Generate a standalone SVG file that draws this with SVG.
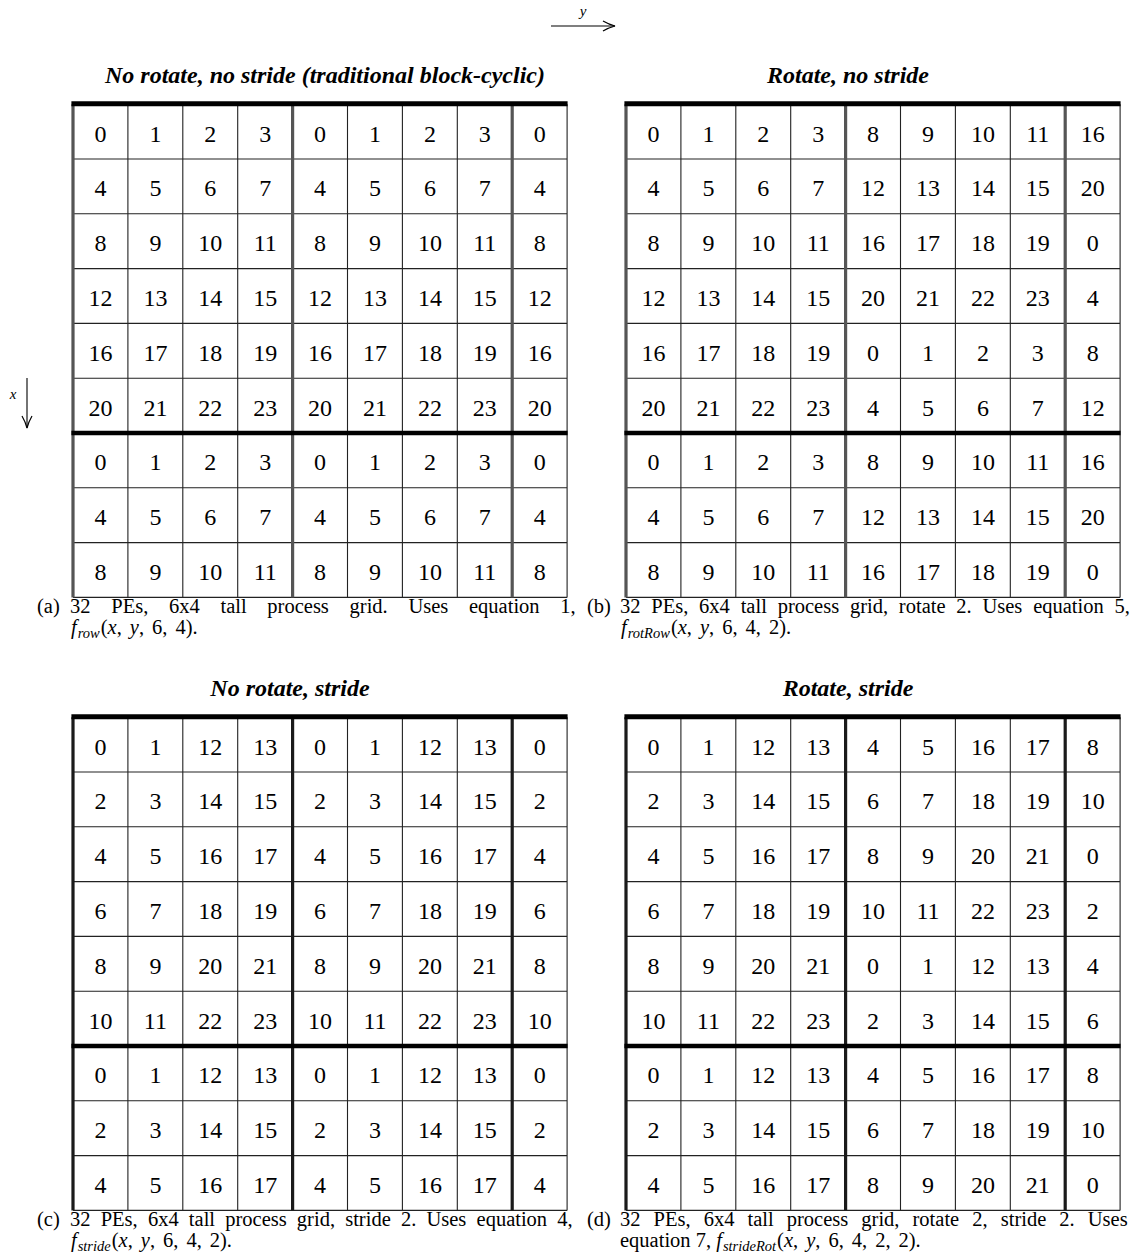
<svg xmlns="http://www.w3.org/2000/svg" xmlns:xlink="http://www.w3.org/1999/xlink" width="1133" height="1260" viewBox="0 0 1133 1260">
<style>
.n{font-family:"Liberation Serif","Times New Roman",serif;font-size:24px;text-anchor:middle;fill:#000}
.thin{fill:none;stroke:#222;stroke-width:1.1}
.tv{fill:none;stroke:currentColor;stroke-width:3.2}
.th{fill:none;stroke:#000}
.title{font-family:"Liberation Serif","Times New Roman",serif;font-weight:bold;font-style:italic;font-size:24px;text-anchor:middle;fill:#000}
.cap{font-family:"Liberation Serif","Times New Roman",serif;font-size:20.5px;fill:#000}
.i{font-style:italic}
.sub{font-style:italic;font-size:14.5px}
.ax{stroke:#000;stroke-width:1.1;fill:none}
.axl{font-family:"Liberation Serif","Times New Roman",serif;font-style:italic;font-size:15px;fill:#000}
</style>
<defs>
<marker id="chev" markerUnits="userSpaceOnUse" markerWidth="16" markerHeight="12" refX="14" refY="6" orient="auto">
<path d="M2 1 Q8 4.5 14 6 Q8 7.5 2 11" fill="none" stroke="#000" stroke-width="1.2"/>
</marker>
<g id="lines">
<path class="thin" d="M54.9 0V493.2M109.8 0V493.2M164.7 0V493.2M274.5 0V493.2M329.4 0V493.2M384.3 0V493.2M494.1 0V493.2M0 54.8H494.1M0 109.6H494.1M0 164.4H494.1M0 219.2H494.1M0 274H494.1M0 383.6H494.1M0 438.4H494.1M0 493.2H494.1"/>
<path class="tv" d="M0 0V493.2M219.6 0V493.2M439.2 0V493.2"/>
<path class="th" stroke-width="5" d="M-1.6 -0.5H494.6"/>
<path class="th" stroke-width="4.5" d="M-1.6 328.8H494.6"/>
</g>
</defs>

<g id="connectors">
<line class="ax" x1="551" y1="26" x2="615" y2="26" marker-end="url(#chev)"/>
<text class="axl" x="583" y="16" text-anchor="middle">y</text>
<line class="ax" x1="27" y1="378" x2="27" y2="428" marker-end="url(#chev)"/>
<text class="axl" x="13" y="399" text-anchor="middle">x</text>
</g>

<g id="grid-a">
<text class="title" x="325" y="83">No rotate, no stride (traditional block-cyclic)</text>
<g transform="translate(73,104.2)" style="color:#555">
<use xlink:href="#lines"/>
<g class="n">
<text y="37.5"><tspan x="27.5">0</tspan><tspan x="82.4">1</tspan><tspan x="137.3">2</tspan><tspan x="192.2">3</tspan><tspan x="247.1">0</tspan><tspan x="302">1</tspan><tspan x="356.9">2</tspan><tspan x="411.8">3</tspan><tspan x="466.7">0</tspan></text>
<text y="92.3"><tspan x="27.5">4</tspan><tspan x="82.4">5</tspan><tspan x="137.3">6</tspan><tspan x="192.2">7</tspan><tspan x="247.1">4</tspan><tspan x="302">5</tspan><tspan x="356.9">6</tspan><tspan x="411.8">7</tspan><tspan x="466.7">4</tspan></text>
<text y="147.1"><tspan x="27.5">8</tspan><tspan x="82.4">9</tspan><tspan x="137.3">10</tspan><tspan x="192.2">11</tspan><tspan x="247.1">8</tspan><tspan x="302">9</tspan><tspan x="356.9">10</tspan><tspan x="411.8">11</tspan><tspan x="466.7">8</tspan></text>
<text y="201.9"><tspan x="27.5">12</tspan><tspan x="82.4">13</tspan><tspan x="137.3">14</tspan><tspan x="192.2">15</tspan><tspan x="247.1">12</tspan><tspan x="302">13</tspan><tspan x="356.9">14</tspan><tspan x="411.8">15</tspan><tspan x="466.7">12</tspan></text>
<text y="256.7"><tspan x="27.5">16</tspan><tspan x="82.4">17</tspan><tspan x="137.3">18</tspan><tspan x="192.2">19</tspan><tspan x="247.1">16</tspan><tspan x="302">17</tspan><tspan x="356.9">18</tspan><tspan x="411.8">19</tspan><tspan x="466.7">16</tspan></text>
<text y="311.5"><tspan x="27.5">20</tspan><tspan x="82.4">21</tspan><tspan x="137.3">22</tspan><tspan x="192.2">23</tspan><tspan x="247.1">20</tspan><tspan x="302">21</tspan><tspan x="356.9">22</tspan><tspan x="411.8">23</tspan><tspan x="466.7">20</tspan></text>
<text y="366.3"><tspan x="27.5">0</tspan><tspan x="82.4">1</tspan><tspan x="137.3">2</tspan><tspan x="192.2">3</tspan><tspan x="247.1">0</tspan><tspan x="302">1</tspan><tspan x="356.9">2</tspan><tspan x="411.8">3</tspan><tspan x="466.7">0</tspan></text>
<text y="421.1"><tspan x="27.5">4</tspan><tspan x="82.4">5</tspan><tspan x="137.3">6</tspan><tspan x="192.2">7</tspan><tspan x="247.1">4</tspan><tspan x="302">5</tspan><tspan x="356.9">6</tspan><tspan x="411.8">7</tspan><tspan x="466.7">4</tspan></text>
<text y="475.9"><tspan x="27.5">8</tspan><tspan x="82.4">9</tspan><tspan x="137.3">10</tspan><tspan x="192.2">11</tspan><tspan x="247.1">8</tspan><tspan x="302">9</tspan><tspan x="356.9">10</tspan><tspan x="411.8">11</tspan><tspan x="466.7">8</tspan></text>
</g>
</g>
</g>

<g id="grid-b">
<text class="title" x="848" y="83">Rotate, no stride</text>
<g transform="translate(626,104.2)" style="color:#555">
<use xlink:href="#lines"/>
<g class="n">
<text y="37.5"><tspan x="27.5">0</tspan><tspan x="82.4">1</tspan><tspan x="137.3">2</tspan><tspan x="192.2">3</tspan><tspan x="247.1">8</tspan><tspan x="302">9</tspan><tspan x="356.9">10</tspan><tspan x="411.8">11</tspan><tspan x="466.7">16</tspan></text>
<text y="92.3"><tspan x="27.5">4</tspan><tspan x="82.4">5</tspan><tspan x="137.3">6</tspan><tspan x="192.2">7</tspan><tspan x="247.1">12</tspan><tspan x="302">13</tspan><tspan x="356.9">14</tspan><tspan x="411.8">15</tspan><tspan x="466.7">20</tspan></text>
<text y="147.1"><tspan x="27.5">8</tspan><tspan x="82.4">9</tspan><tspan x="137.3">10</tspan><tspan x="192.2">11</tspan><tspan x="247.1">16</tspan><tspan x="302">17</tspan><tspan x="356.9">18</tspan><tspan x="411.8">19</tspan><tspan x="466.7">0</tspan></text>
<text y="201.9"><tspan x="27.5">12</tspan><tspan x="82.4">13</tspan><tspan x="137.3">14</tspan><tspan x="192.2">15</tspan><tspan x="247.1">20</tspan><tspan x="302">21</tspan><tspan x="356.9">22</tspan><tspan x="411.8">23</tspan><tspan x="466.7">4</tspan></text>
<text y="256.7"><tspan x="27.5">16</tspan><tspan x="82.4">17</tspan><tspan x="137.3">18</tspan><tspan x="192.2">19</tspan><tspan x="247.1">0</tspan><tspan x="302">1</tspan><tspan x="356.9">2</tspan><tspan x="411.8">3</tspan><tspan x="466.7">8</tspan></text>
<text y="311.5"><tspan x="27.5">20</tspan><tspan x="82.4">21</tspan><tspan x="137.3">22</tspan><tspan x="192.2">23</tspan><tspan x="247.1">4</tspan><tspan x="302">5</tspan><tspan x="356.9">6</tspan><tspan x="411.8">7</tspan><tspan x="466.7">12</tspan></text>
<text y="366.3"><tspan x="27.5">0</tspan><tspan x="82.4">1</tspan><tspan x="137.3">2</tspan><tspan x="192.2">3</tspan><tspan x="247.1">8</tspan><tspan x="302">9</tspan><tspan x="356.9">10</tspan><tspan x="411.8">11</tspan><tspan x="466.7">16</tspan></text>
<text y="421.1"><tspan x="27.5">4</tspan><tspan x="82.4">5</tspan><tspan x="137.3">6</tspan><tspan x="192.2">7</tspan><tspan x="247.1">12</tspan><tspan x="302">13</tspan><tspan x="356.9">14</tspan><tspan x="411.8">15</tspan><tspan x="466.7">20</tspan></text>
<text y="475.9"><tspan x="27.5">8</tspan><tspan x="82.4">9</tspan><tspan x="137.3">10</tspan><tspan x="192.2">11</tspan><tspan x="247.1">16</tspan><tspan x="302">17</tspan><tspan x="356.9">18</tspan><tspan x="411.8">19</tspan><tspan x="466.7">0</tspan></text>
</g>
</g>
</g>

<g id="grid-c">
<text class="title" x="290" y="696">No rotate, stride</text>
<g transform="translate(73,717.2)" style="color:#1a1a1a">
<use xlink:href="#lines"/>
<g class="n">
<text y="37.5"><tspan x="27.5">0</tspan><tspan x="82.4">1</tspan><tspan x="137.3">12</tspan><tspan x="192.2">13</tspan><tspan x="247.1">0</tspan><tspan x="302">1</tspan><tspan x="356.9">12</tspan><tspan x="411.8">13</tspan><tspan x="466.7">0</tspan></text>
<text y="92.3"><tspan x="27.5">2</tspan><tspan x="82.4">3</tspan><tspan x="137.3">14</tspan><tspan x="192.2">15</tspan><tspan x="247.1">2</tspan><tspan x="302">3</tspan><tspan x="356.9">14</tspan><tspan x="411.8">15</tspan><tspan x="466.7">2</tspan></text>
<text y="147.1"><tspan x="27.5">4</tspan><tspan x="82.4">5</tspan><tspan x="137.3">16</tspan><tspan x="192.2">17</tspan><tspan x="247.1">4</tspan><tspan x="302">5</tspan><tspan x="356.9">16</tspan><tspan x="411.8">17</tspan><tspan x="466.7">4</tspan></text>
<text y="201.9"><tspan x="27.5">6</tspan><tspan x="82.4">7</tspan><tspan x="137.3">18</tspan><tspan x="192.2">19</tspan><tspan x="247.1">6</tspan><tspan x="302">7</tspan><tspan x="356.9">18</tspan><tspan x="411.8">19</tspan><tspan x="466.7">6</tspan></text>
<text y="256.7"><tspan x="27.5">8</tspan><tspan x="82.4">9</tspan><tspan x="137.3">20</tspan><tspan x="192.2">21</tspan><tspan x="247.1">8</tspan><tspan x="302">9</tspan><tspan x="356.9">20</tspan><tspan x="411.8">21</tspan><tspan x="466.7">8</tspan></text>
<text y="311.5"><tspan x="27.5">10</tspan><tspan x="82.4">11</tspan><tspan x="137.3">22</tspan><tspan x="192.2">23</tspan><tspan x="247.1">10</tspan><tspan x="302">11</tspan><tspan x="356.9">22</tspan><tspan x="411.8">23</tspan><tspan x="466.7">10</tspan></text>
<text y="366.3"><tspan x="27.5">0</tspan><tspan x="82.4">1</tspan><tspan x="137.3">12</tspan><tspan x="192.2">13</tspan><tspan x="247.1">0</tspan><tspan x="302">1</tspan><tspan x="356.9">12</tspan><tspan x="411.8">13</tspan><tspan x="466.7">0</tspan></text>
<text y="421.1"><tspan x="27.5">2</tspan><tspan x="82.4">3</tspan><tspan x="137.3">14</tspan><tspan x="192.2">15</tspan><tspan x="247.1">2</tspan><tspan x="302">3</tspan><tspan x="356.9">14</tspan><tspan x="411.8">15</tspan><tspan x="466.7">2</tspan></text>
<text y="475.9"><tspan x="27.5">4</tspan><tspan x="82.4">5</tspan><tspan x="137.3">16</tspan><tspan x="192.2">17</tspan><tspan x="247.1">4</tspan><tspan x="302">5</tspan><tspan x="356.9">16</tspan><tspan x="411.8">17</tspan><tspan x="466.7">4</tspan></text>
</g>
</g>
</g>

<g id="grid-d">
<text class="title" x="848" y="696">Rotate, stride</text>
<g transform="translate(626,717.2)" style="color:#1a1a1a">
<use xlink:href="#lines"/>
<g class="n">
<text y="37.5"><tspan x="27.5">0</tspan><tspan x="82.4">1</tspan><tspan x="137.3">12</tspan><tspan x="192.2">13</tspan><tspan x="247.1">4</tspan><tspan x="302">5</tspan><tspan x="356.9">16</tspan><tspan x="411.8">17</tspan><tspan x="466.7">8</tspan></text>
<text y="92.3"><tspan x="27.5">2</tspan><tspan x="82.4">3</tspan><tspan x="137.3">14</tspan><tspan x="192.2">15</tspan><tspan x="247.1">6</tspan><tspan x="302">7</tspan><tspan x="356.9">18</tspan><tspan x="411.8">19</tspan><tspan x="466.7">10</tspan></text>
<text y="147.1"><tspan x="27.5">4</tspan><tspan x="82.4">5</tspan><tspan x="137.3">16</tspan><tspan x="192.2">17</tspan><tspan x="247.1">8</tspan><tspan x="302">9</tspan><tspan x="356.9">20</tspan><tspan x="411.8">21</tspan><tspan x="466.7">0</tspan></text>
<text y="201.9"><tspan x="27.5">6</tspan><tspan x="82.4">7</tspan><tspan x="137.3">18</tspan><tspan x="192.2">19</tspan><tspan x="247.1">10</tspan><tspan x="302">11</tspan><tspan x="356.9">22</tspan><tspan x="411.8">23</tspan><tspan x="466.7">2</tspan></text>
<text y="256.7"><tspan x="27.5">8</tspan><tspan x="82.4">9</tspan><tspan x="137.3">20</tspan><tspan x="192.2">21</tspan><tspan x="247.1">0</tspan><tspan x="302">1</tspan><tspan x="356.9">12</tspan><tspan x="411.8">13</tspan><tspan x="466.7">4</tspan></text>
<text y="311.5"><tspan x="27.5">10</tspan><tspan x="82.4">11</tspan><tspan x="137.3">22</tspan><tspan x="192.2">23</tspan><tspan x="247.1">2</tspan><tspan x="302">3</tspan><tspan x="356.9">14</tspan><tspan x="411.8">15</tspan><tspan x="466.7">6</tspan></text>
<text y="366.3"><tspan x="27.5">0</tspan><tspan x="82.4">1</tspan><tspan x="137.3">12</tspan><tspan x="192.2">13</tspan><tspan x="247.1">4</tspan><tspan x="302">5</tspan><tspan x="356.9">16</tspan><tspan x="411.8">17</tspan><tspan x="466.7">8</tspan></text>
<text y="421.1"><tspan x="27.5">2</tspan><tspan x="82.4">3</tspan><tspan x="137.3">14</tspan><tspan x="192.2">15</tspan><tspan x="247.1">6</tspan><tspan x="302">7</tspan><tspan x="356.9">18</tspan><tspan x="411.8">19</tspan><tspan x="466.7">10</tspan></text>
<text y="475.9"><tspan x="27.5">4</tspan><tspan x="82.4">5</tspan><tspan x="137.3">16</tspan><tspan x="192.2">17</tspan><tspan x="247.1">8</tspan><tspan x="302">9</tspan><tspan x="356.9">20</tspan><tspan x="411.8">21</tspan><tspan x="466.7">0</tspan></text>
</g>
</g>
</g>

<g id="caption-a">
<text class="cap" x="37" y="613">(a)</text>
<text class="cap" x="70" y="613" word-spacing="15.6">32 PEs, 6x4 tall process grid. Uses equation 1,</text>
<text class="cap" x="71" y="634"><tspan class="i">f</tspan><tspan class="sub" dx="1" dy="4">row</tspan><tspan dy="-4" dx="1">(</tspan><tspan class="i">x</tspan>,<tspan class="i" dx="8">y</tspan>,<tspan dx="8">6,</tspan><tspan dx="8">4).</tspan></text>
</g>
<g id="caption-b">
<text class="cap" x="587" y="613">(b)</text>
<text class="cap" x="620" y="613" word-spacing="5.67">32 PEs, 6x4 tall process grid, rotate 2. Uses equation 5,</text>
<text class="cap" x="621" y="634"><tspan class="i">f</tspan><tspan class="sub" dx="1" dy="4">rotRow</tspan><tspan dy="-4" dx="1">(</tspan><tspan class="i">x</tspan>,<tspan class="i" dx="8">y</tspan>,<tspan dx="8">6,</tspan><tspan dx="8">4,</tspan><tspan dx="8">2).</tspan></text>
</g>
<g id="caption-c">
<text class="cap" x="37" y="1226">(c)</text>
<text class="cap" x="70" y="1226" word-spacing="5.06">32 PEs, 6x4 tall process grid, stride 2. Uses equation 4,</text>
<text class="cap" x="71" y="1247"><tspan class="i">f</tspan><tspan class="sub" dx="1" dy="4">stride</tspan><tspan dy="-4" dx="1">(</tspan><tspan class="i">x</tspan>,<tspan class="i" dx="8">y</tspan>,<tspan dx="8">6,</tspan><tspan dx="8">4,</tspan><tspan dx="8">2).</tspan></text>
</g>
<g id="caption-d">
<text class="cap" x="587" y="1226">(d)</text>
<text class="cap" x="620" y="1226" word-spacing="7.95">32 PEs, 6x4 tall process grid, rotate 2, stride 2. Uses</text>
<text class="cap" x="620" y="1247">equation 7, <tspan class="i">f</tspan><tspan class="sub" dx="1" dy="4">strideRot</tspan><tspan dy="-4" dx="1">(</tspan><tspan class="i">x</tspan>,<tspan class="i" dx="8">y</tspan>,<tspan dx="8">6,</tspan><tspan dx="8">4,</tspan><tspan dx="8">2,</tspan><tspan dx="8">2).</tspan></text>
</g>
</svg>
